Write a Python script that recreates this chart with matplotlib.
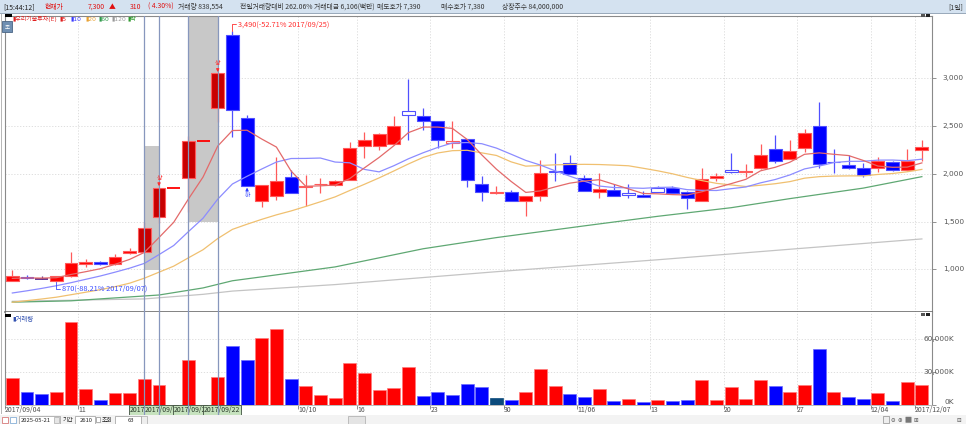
import numpy as np
import pandas as pd
import matplotlib
matplotlib.use('Agg')
import matplotlib.pyplot as plt
from matplotlib.patches import Rectangle, FancyBboxPatch
import matplotlib.transforms as mtransforms

plt.rcParams['font.family'] = ['Noto Sans CJK KR', 'DejaVu Sans']
MARK_FONT = ['DejaVu Sans', 'Noto Sans CJK KR']

# ---- data ----
holidays = ['2017-10-02', '2017-10-03', '2017-10-04', '2017-10-05', '2017-10-06', '2017-10-09']
days = pd.bdate_range('2017-09-04', '2017-12-07')
days = days[~days.isin(pd.to_datetime(holidays))]
dates = [d.strftime('%Y/%m/%d') for d in days]

opens = [875, 915, 900, 875, 925, 1060, 1075, 1055, 1170, 1185, 1545, 1855, 1955, 2345, 2685, 3455,
         2580, 1710, 1770, 1965, 1860, 1890, 1880, 1930, 2295, 2290, 2310, 2655, 2610, 2555, 2320, 2365,
         1895, 1800, 1805, 1720, 1770, 2030, 2110, 1955, 1805, 1830, 1795, 1780, 1855, 1855, 1805, 1715,
         1955, 2035, 2020, 2060, 2255, 2150, 2265, 2505, 2125, 2095, 2065, 2060, 2120, 2040, 2245]
highs = [990, 941, 928, 935, 1185, 1105, 1090, 1160, 1220, 1500, 1855, 1855, 2395, 2345, 3050, 3490,
         2615, 1885, 2175, 2035, 1990, 1955, 1935, 2330, 2435, 2425, 2600, 2990, 2685, 2555, 2555, 2365,
         1975, 1875, 1835, 1770, 2145, 2215, 2195, 1990, 2005, 1895, 1890, 1815, 1875, 1875, 1825, 2065,
         2010, 2220, 2100, 2310, 2405, 2355, 2465, 2755, 2255, 2195, 2110, 2180, 2130, 2255, 2355]
lows = [875, 895, 895, 870, 920, 1020, 1040, 1050, 1160, 1180, 1490, 1855, 1605, 2345, 2540, 2390,
        1870, 1650, 1725, 1795, 1665, 1795, 1875, 1930, 2170, 2250, 2310, 2355, 2460, 2265, 2265, 1865,
        1710, 1785, 1710, 1560, 1715, 1925, 2000, 1825, 1745, 1770, 1750, 1760, 1805, 1800, 1630, 1715,
        1925, 2005, 1970, 2055, 2110, 2150, 2230, 2065, 2010, 2055, 1970, 2020, 2025, 2025, 2130]
closes = [930, 905, 900, 930, 1065, 1075, 1060, 1130, 1190, 1430, 1855, 1855, 2345, 2345, 3050, 2670,
          1870, 1885, 1925, 1795, 1870, 1895, 1925, 2265, 2355, 2415, 2505, 2615, 2555, 2355, 2345, 1930,
          1805, 1805, 1715, 1770, 2010, 2015, 2000, 1825, 1840, 1770, 1775, 1760, 1805, 1800, 1750, 1945,
          1975, 2015, 2025, 2195, 2130, 2240, 2430, 2100, 2120, 2065, 1985, 2135, 2035, 2130, 2285]
volumes = [24500, 12100, 10000, 11500, 75750, 14200, 4850, 10600, 10600, 23900, 18500, 0, 40900, 0,
           25450, 53600, 40900, 60900, 69100, 23600, 17300, 9400, 6700, 38200, 29100, 13900, 15450,
           34500, 7900, 12100, 8800, 19100, 16400, 6400, 4850, 12100, 33000, 17600, 10000, 7000, 14500,
           3900, 5450, 2700, 4850, 3300, 4850, 23000, 4850, 16400, 5450, 23000, 17600, 11500, 18200,
           50900, 12100, 7000, 5450, 10900, 3600, 21200, 18200]  # K

ma5 = [905, 910, 908, 912, 946, 975, 1006, 1052, 1104, 1177, 1333, 1492, 1735, 1966, 2290, 2453, 2456,
       2364, 2280, 2029, 1869, 1874, 1882, 1950, 2062, 2171, 2293, 2431, 2489, 2489, 2475, 2360, 2198,
       2048, 1920, 1805, 1821, 1863, 1902, 1924, 1938, 1890, 1842, 1794, 1790, 1782, 1778, 1812, 1855,
       1897, 1942, 2031, 2068, 2121, 2204, 2219, 2204, 2191, 2140, 2081, 2068, 2070, 2114]
ma10 = [752, 775, 800, 828, 860, 895, 930, 970, 1012, 1062, 1154, 1249, 1394, 1535, 1734, 1893, 1974,
        2050, 2123, 2160, 2161, 2165, 2123, 2115, 2046, 2020, 2084, 2157, 2220, 2276, 2323, 2327, 2315,
        2269, 2205, 2140, 2091, 2031, 1975, 1922, 1872, 1856, 1853, 1848, 1857, 1860, 1834, 1827, 1825,
        1844, 1862, 1905, 1940, 1988, 2051, 2081, 2118, 2130, 2131, 2143, 2144, 2137, 2153]
ma20 = [655, 672, 689, 708, 734, 760, 787, 818, 855, 907, 970, 1033, 1120, 1205, 1322, 1418, 1472, 1523,
        1570, 1611, 1658, 1707, 1758, 1825, 1890, 1957, 2029, 2103, 2171, 2218, 2242, 2246, 2219, 2192,
        2125, 2080, 2087, 2094, 2097, 2099, 2097, 2091, 2084, 2058, 2031, 2000, 1962, 1929, 1900, 1883,
        1867, 1880, 1896, 1918, 1954, 1970, 1976, 1978, 1978, 1993, 2003, 2021, 2046]
ma60_at = [0, 4, 10, 13, 15, 17, 22, 28, 33, 39, 44, 49, 53, 58, 62]
ma60 = [656, 670, 731, 805, 880, 921, 1025, 1215, 1332, 1455, 1555, 1645, 1740, 1850, 1970]
ma120_at = [0, 9, 13, 15, 22, 33, 44, 53, 62]
ma120 = [665, 690, 738, 772, 840, 975, 1100, 1210, 1318]

week_ticks = [0, 5, 20, 24, 29, 34, 39, 44, 49, 54, 59, 62]
week_labels = ['2017/09/04', '11', '10/10', '16', '23', '30', '11/06', '13', '20', '27', '12/04', '2017/12/07']
price_ticks = [1000, 1500, 2000, 2500, 3000]
vol_ticks = [0, 30000, 60000]
marked = [9, 10, 12, 14]
marked_visible = [4, 9, 9, 10]   # characters of each date tag left uncovered by the next tag
zones = [(9, 10, 993, 2291), (12, 14, 1499, 3700)]
ref_price = 7380

RED, BLUE, NAVY = '#ff0000', '#0000ff', '#0b4a7c'

# ---- figure ----
W, H = 966, 424
fig = plt.figure(figsize=(W / 100, H / 100), dpi=100)


def fx(x):
    return x / W


def fy(y):
    return 1 - y / H


def box(x0, y0, x1, y1, **kw):
    fig.add_artist(Rectangle((fx(x0), fy(y1)), fx(x1) - fx(x0), fy(y0) - fy(y1),
                             transform=fig.transFigure, **kw))


def label(x, y, s, **kw):
    kw.setdefault('fontsize', 5.0)
    kw.setdefault('va', 'center')
    fig.text(fx(x), fy(y), s, **kw)


ax = fig.add_axes([fx(5), fy(312), fx(932) - fx(5), fy(16) - fy(312)])
axv = fig.add_axes([fx(5), fy(405), fx(932) - fx(5), fy(312) - fy(405)])

x = np.arange(len(closes))
for a in (ax, axv):
    a.set_xlim(-0.5, 62.69)
    a.set_xticks([t - 0.5 for t in week_ticks])
    a.grid(True, color='#d9d9d9', lw=0.6, ls=(0, (1.5, 2)))
    a.set_axisbelow(True)
    a.yaxis.tick_right()
    a.tick_params(axis='y', length=3, width=0.6, color='#808080', labelright=False, labelleft=False)
    for s in ('left', 'right'):
        a.spines[s].set_color('#8a8a8a')
        a.spines[s].set_linewidth(0.8)

ax.set_ylim(553, 3652)
ax.set_yticks(price_ticks)
ax.tick_params(axis='x', length=0, labelbottom=False)
ax.spines['top'].set_color('#8a8a8a')
ax.spines['bottom'].set_color('#606060')
ax.spines['bottom'].set_linewidth(1.1)

axv.set_ylim(0, 84800)
axv.set_yticks(vol_ticks)
axv.spines['top'].set_visible(False)
axv.spines['bottom'].set_color('#b0b0b0')
axv.spines['bottom'].set_linewidth(0.6)
axv.set_xticklabels(week_labels, fontsize=5.0, color='#505050')
for t in axv.get_xticklabels():
    t.set_ha('left')
    t.set_va('center')
axv.tick_params(axis='x', length=3, width=0.6, color='#808080', pad=0.3)

# highlight zones
for x0, x1, y0, y1 in zones:
    ax.add_patch(Rectangle((x0, y0), x1 - x0, y1 - y0, facecolor='#c8c8c8', edgecolor='none', zorder=1))

# candles and volume
vol_cols = []
for i in x:
    o, h, l, c = opens[i], highs[i], lows[i], closes[i]
    prev = closes[i - 1] if i > 0 else o
    if c > o:
        col, edge = RED, '#ff5a5a'
    elif c < o:
        col, edge = BLUE, '#5050ff'
    else:
        col, edge = (RED, RED) if h == l else ('#5a2a8a', '#5a2a8a')
    vol_cols.append(RED if c > prev else BLUE if c < prev else NAVY)
    hollow = (c - o) * (c - prev) < 0
    ax.vlines(i, l, h, color=edge, lw=0.9, zorder=3)
    if c == o:
        ax.hlines(c, i - 0.44, i + 0.44, color=col, lw=1.3, zorder=4)
        continue
    face = 'white' if hollow else ('#c80000' if i in marked else col)
    ax.add_patch(Rectangle((i - 0.44, min(o, c)), 0.88, abs(c - o), facecolor=face,
                           edgecolor=edge, lw=0.8, zorder=4))

vx = [i for i in x if volumes[i] > 0]
axv.bar(vx, [volumes[i] for i in vx], width=0.88, color=[vol_cols[i] for i in vx],
        edgecolor=['#ff7a7a' if vol_cols[i] == RED else '#6a6aff' if vol_cols[i] == BLUE else NAVY for i in vx],
        lw=0.5, zorder=3)

# moving averages
ax.plot(ma120_at, ma120, color='#c4c4c4', lw=0.9, zorder=5)
ax.plot(ma60_at, ma60, color='#5fa873', lw=0.9, zorder=5)
ax.plot(x, ma20, color='#f0c070', lw=0.9, zorder=5)
ax.plot(x, ma10, color='#8c8cff', lw=0.9, zorder=5)
ax.plot(x, ma5, color='#e36a6a', lw=0.9, zorder=5)

# marked days: vertical lines and date tags (each tag covers the tail of the previous one)
blend = mtransforms.blended_transform_factory(axv.transData, axv.transAxes)
for k, i in enumerate(marked):
    ax.axvline(i, color='#8797bd', lw=0.9, zorder=6)
    axv.axvline(i, ymin=-0.1, ymax=1, color='#8797bd', lw=0.9, zorder=6, clip_on=False)
    axv.text(i - 0.97, -0.052, dates[i][:marked_visible[k]], transform=blend,
             ha='left', va='center', fontsize=5.0, color='#2a3a2a', zorder=4 + k * 0.1, clip_on=False,
             bbox=dict(boxstyle='square,pad=0.12', facecolor='#c6e2be', edgecolor='#3f503f', lw=0.6))

# upper / lower limit markers
for i in x[1:]:
    r = closes[i] / closes[i - 1]
    if r >= 1.29:
        ax.annotate('상', xy=(i, highs[i]), xytext=(0, 7), textcoords='offset pixels', ha='center', va='bottom',
                    fontsize=4.3, color='#ff3030', zorder=7,
                    arrowprops=dict(arrowstyle='-|>', color='#ff3030', lw=0.8, mutation_scale=4, shrinkA=0, shrinkB=1))
    elif r <= 0.71:
        ax.annotate('하', xy=(i, lows[i]), xytext=(0, -7), textcoords='offset pixels', ha='center', va='top',
                    fontsize=4.3, color='#3040ff', zorder=7,
                    arrowprops=dict(arrowstyle='-|>', color='#3040ff', lw=0.8, mutation_scale=4, shrinkA=0, shrinkB=1))

# max / min labels
hi = int(np.argmax(highs))
lo = int(np.argmin(lows))
for idx, val, dy, col in ((hi, highs[hi], 7, '#ff3030'), (lo, lows[lo], -7, '#3a4cff')):
    txt = f'{val:,}({(val / ref_price - 1) * 100:.2f}% {dates[idx]})'
    ax.annotate(txt, xy=(idx, val), xytext=(6, dy), textcoords='offset pixels', ha='left', va='center',
                fontsize=5.3, color=col, zorder=7,
                arrowprops=dict(arrowstyle='-', color=col, lw=0.6, shrinkA=0, shrinkB=0,
                                connectionstyle='angle,angleA=0,angleB=90,rad=0'))

# right axis labels
for v in price_ticks:
    ax.text(1.0345, v, f'{v:,}', transform=ax.get_yaxis_transform(), ha='right', va='center',
            fontsize=5.3, color='#555555', clip_on=False, family=MARK_FONT)
lift = mtransforms.offset_copy(axv.get_yaxis_transform(), fig=fig, y=3, units='dots')
for v in vol_ticks:
    axv.text(1.0237, v, f'{v:,}K', transform=lift if v == 0 else axv.get_yaxis_transform(),
             ha='right', va='center', fontsize=5.3, color='#555555', clip_on=False, family=MARK_FONT)

# ---- header ----
box(0, 0, 966, 13, facecolor='#d4e2f0', edgecolor='none')
box(0, 13, 966, 14, facecolor='#9aaabb', edgecolor='none')
box(1, 14, 2, 414, facecolor='#b8b8b8', edgecolor='none')
head = [(3, '[15:44:12]', '#202020'), (45, '현재가', '#e01010'), (88, '7,300', '#e01010'),
        (109, '▲', '#e01010'), (130, '310', '#e01010'), (148, '( 4.30%)', '#e01010'),
        (178, '거래량 838,554', '#333333'), (240, '전일거래량대비 262.06%', '#333333'),
        (314, '거래대금 6,106(백만)', '#333333'), (377, '매도호가 7,390', '#333333'),
        (441, '매수호가 7,380', '#333333'), (502, '상장주수 84,000,000', '#333333')]
for hx, s, c in head:
    label(hx, 7, s, color=c, fontsize=4.9)
label(963, 7, '[1일]', color='#333333', ha='right', fontsize=4.9)

# legend row
box(5, 14, 12, 17, facecolor='black', edgecolor='none')
box(2, 21, 12, 32, facecolor='#6f8fb2', edgecolor='#4a6585', lw=0.6)
label(7, 26.5, '조', color='white', fontsize=4, ha='center')
legend = [(12, '▮우리기술투자(E)', '#e02020'), (59, '▮5', '#e02020'), (70, '▮10', '#3a3aff'),
          (85, '▮20', '#e8a030'), (98, '▮60', '#2f9a4a'), (111, '▮120', '#999999'), (127, '▮락', '#2f9a2f')]
for lx, s, c in legend:
    label(lx, 18.5, s, color=c, fontsize=4.3, family=MARK_FONT)
for yy in (14, 313):
    box(921, yy, 925, yy + 3, facecolor='#555555', edgecolor='none')
    box(926, yy, 930, yy + 3, facecolor='#222222', edgecolor='none')

# volume panel label
box(5, 314, 11, 317, facecolor='black', edgecolor='none')
label(12, 318.5, '▮거래량', color='#3050b0', fontsize=4.6, family=MARK_FONT)

# ---- bottom toolbar ----
TY = 420
box(0, 415, 966, 424, facecolor='#f3f3f3', edgecolor='none')
box(2, 416.5, 8, 422.5, facecolor='white', edgecolor='#d06060', lw=0.5)
box(10, 416.5, 16, 422.5, facecolor='white', edgecolor='#70a0d0', lw=0.5)
box(19, 416, 60, 423.5, facecolor='white', edgecolor='#999999', lw=0.5)
label(21, TY, '2025-05-21', color='#222222', fontsize=4.2)
box(54, 417, 59, 422.5, facecolor='#e6e6e6', edgecolor='#999999', lw=0.4)
label(63, TY, '기간', color='#222222', fontsize=4.2)
box(75, 416, 95, 423.5, facecolor='white', edgecolor='#999999', lw=0.5)
label(93, TY, '2610', color='#222222', fontsize=4.2, ha='right')
box(96, 417, 100, 422, facecolor='white', edgecolor='#777777', lw=0.4)
label(102, TY, '조회', color='#222222', fontsize=4.2)
box(115, 416, 141, 423.5, facecolor='white', edgecolor='#999999', lw=0.5)
label(134, TY, '63', color='#222222', fontsize=4.2, ha='right')
box(141, 416.5, 147, 423.5, facecolor='#eeeeee', edgecolor='#999999', lw=0.4)
box(348, 416, 365, 423.5, facecolor='#e4e4e4', edgecolor='#aaaaaa', lw=0.5)
box(883, 416, 889, 423, facecolor='#eeeeee', edgecolor='#777777', lw=0.4)
for tx, s in ((893, '⊖'), (900, '⊕'), (916, '⊞'), (959, '⊟')):
    label(tx, TY, s, color='#555555', fontsize=4.0, ha='center', family=MARK_FONT)
# hand tool icon
fig.add_artist(FancyBboxPatch((fx(906), fy(422.5)), fx(5), fy(417) - fy(422.5), boxstyle='round,pad=0.0005',
                              transform=fig.transFigure, facecolor='#777777', edgecolor='none'))
box(921, 419.5, 952, 420.3, facecolor='#888888', edgecolor='none')

fig.savefig('out.png', dpi=100)
